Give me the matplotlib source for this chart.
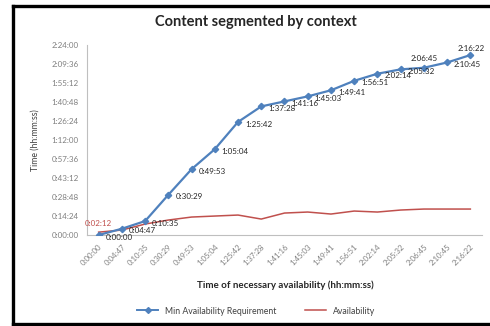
import matplotlib.pyplot as plt
from matplotlib.lines import Line2D
import numpy as np

plt.rcParams['font.family'] = ['Lato', 'DejaVu Sans']

# category labels on the x axis (time of necessary availability)
categories = ["0:00:00", "0:04:47", "0:10:35", "0:30:29", "0:49:53", "1:05:04",
              "1:25:42", "1:37:28", "1:41:16", "1:45:03", "1:49:41", "1:56:51",
              "2:02:14", "2:05:32", "2:06:45", "2:10:45", "2:16:22"]

# Min Availability Requirement (hh:mm:ss)
min_req = ["0:00:00", "0:04:47", "0:10:35", "0:30:29", "0:49:53", "1:05:04",
           "1:25:42", "1:37:28", "1:41:16", "1:45:03", "1:49:41", "1:56:51",
           "2:02:14", "2:05:32", "2:06:45", "2:10:45", "2:16:22"]

# Availability (hh:mm:ss)
availability = ["0:02:12", "0:03:47", "0:08:20", "0:11:22", "0:13:38", "0:14:24",
                "0:15:09", "0:12:07", "0:16:40", "0:17:26", "0:15:55", "0:18:11",
                "0:17:26", "0:18:57", "0:19:42", "0:19:42", "0:19:42"]

yticks = ["0:00:00", "0:14:24", "0:28:48", "0:43:12", "0:57:36", "1:12:00",
          "1:26:24", "1:40:48", "1:55:12", "2:09:36", "2:24:00"]


def to_sec(s):
    h, m, sec = s.split(":")
    return int(h) * 3600 + int(m) * 60 + int(sec)


req_s = np.array([to_sec(v) for v in min_req])
avail_s = np.array([to_sec(v) for v in availability])
ytick_s = [to_sec(v) for v in yticks]
x = np.arange(len(categories))

blue = '#4F81BD'
red = '#C0504D'

fig = plt.figure(figsize=(4.9, 3.26), dpi=100)
ax = fig.add_axes([0.1776, 0.279, 0.806, 0.583])

ax.plot(x, avail_s, color=red, lw=1.1, zorder=2)
ax.plot(x, req_s, color=blue, lw=1.6, marker='D', ms=3.2, zorder=3)

# data labels
for i, (xi, v, lab) in enumerate(zip(x, req_s, min_req)):
    if i == 14:
        ax.annotate(lab, (xi, v), xytext=(0, 4), textcoords='offset points',
                    ha='center', va='bottom', fontsize=5.8, color='#262626')
    elif i == 16:
        ax.annotate(lab, (xi, v), xytext=(-9, 2), textcoords='offset points',
                    ha='left', va='bottom', fontsize=5.8, color='#262626')
    else:
        ax.annotate(lab, (xi, v), xytext=(5, -1.5), textcoords='offset points',
                    ha='left', va='center', fontsize=5.8, color='#262626')
ax.annotate(availability[0], (x[0], avail_s[0]), xytext=(0, 4),
            textcoords='offset points', ha='center', va='bottom',
            fontsize=5.8, color=red)

ax.set_xlim(-0.5, len(categories) - 0.5)
ax.set_ylim(0, ytick_s[-1])
ax.set_yticks(ytick_s)
ax.set_yticklabels(yticks, fontsize=5.8, color='#7F7F7F')
ax.set_xticks(x)
ax.set_xticklabels(categories, fontsize=5.6, color='#7F7F7F', rotation=45,
                   ha='right', rotation_mode='anchor')
ax.tick_params(length=0, pad=6)
for side in ['top', 'right']:
    ax.spines[side].set_visible(False)
ax.spines['left'].set_color('#BFBFBF')
ax.spines['bottom'].set_color('#BFBFBF')

fig.text(0.071, 0.57, "Time (hh:mm:ss)", rotation=90, ha='center', va='center',
         fontsize=6.3, color='#404040')
fig.text(0.582, 0.126, "Time of necessary availability (hh:mm:ss)", ha='center',
         va='center', fontsize=7, color='#262626', fontweight='bold')
fig.text(0.523, 0.933, "Content segmented by context", ha='center', va='center',
         fontsize=10.5, fontweight='bold', color='#262626')

handles = [Line2D([], [], color=blue, lw=1.4, marker='D', ms=3),
           Line2D([], [], color=red, lw=1.1)]
fig.legend(handles, ["Min Availability Requirement", "Availability"],
           loc='center', bbox_to_anchor=(0.523, 0.046), ncol=2, frameon=False,
           fontsize=6.3, handlelength=2.4, columnspacing=3.2, labelcolor='#404040')

# black frame around the chart: left, top and bottom (right edge is cropped off)
x0, y0, y1 = 12.5 / 490, 2.5 / 326, 1 - 5.5 / 326
for xs, ys in [([x0, x0], [y0, y1]), ([x0, 1.0], [y1, y1]), ([x0, 1.0], [y0, y0])]:
    fig.add_artist(Line2D(xs, ys, transform=fig.transFigure, color='black',
                          lw=2.4, solid_capstyle='projecting'))

fig.savefig('out.png', dpi=100)
